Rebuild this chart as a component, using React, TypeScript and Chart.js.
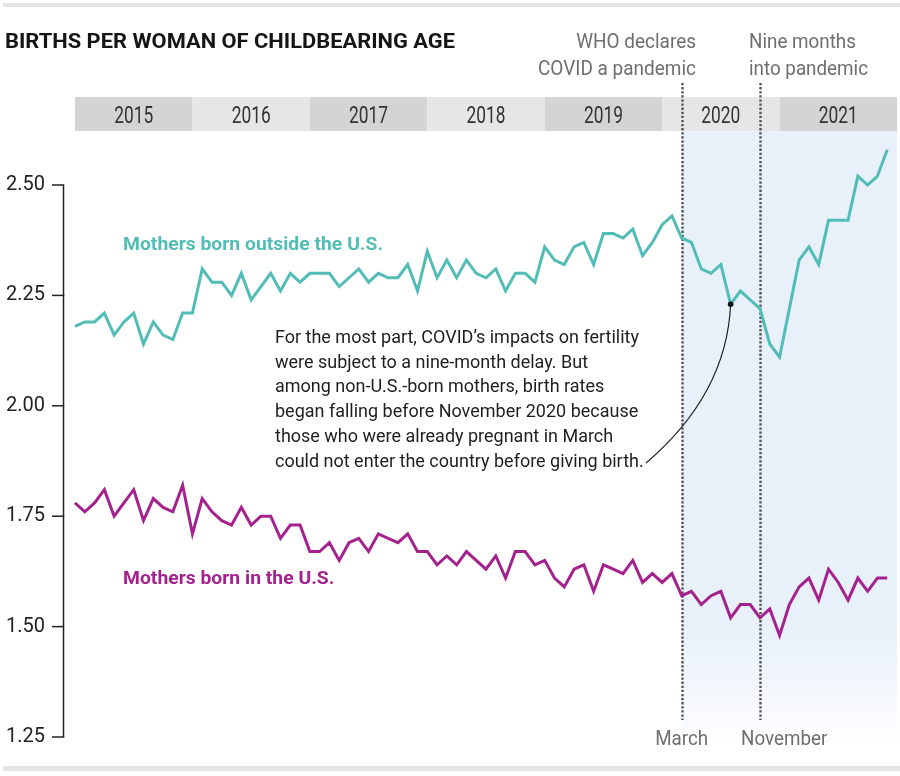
import React, { useEffect, useRef } from "react";
import { Chart, registerables } from "chart.js";

Chart.register(...registerables);

// ---------------- DATA ----------------
const YEARS = ["2015", "2016", "2017", "2018", "2019", "2020", "2021"];
const MONTHS_PER_YEAR = 12;

// Monthly births per woman, Jan 2015 – Dec 2021
const FOREIGN_BORN = [
  2.18, 2.19, 2.19, 2.21, 2.16, 2.19, 2.21, 2.14, 2.19, 2.16, 2.15, 2.21,
  2.21, 2.31, 2.28, 2.28, 2.25, 2.30, 2.24, 2.27, 2.30, 2.26, 2.30, 2.28,
  2.30, 2.30, 2.30, 2.27, 2.29, 2.31, 2.28, 2.30, 2.29, 2.29, 2.32, 2.26,
  2.35, 2.29, 2.33, 2.29, 2.33, 2.30, 2.29, 2.31, 2.26, 2.30, 2.30, 2.28,
  2.36, 2.33, 2.32, 2.36, 2.37, 2.32, 2.39, 2.39, 2.38, 2.40, 2.34, 2.37,
  2.41, 2.43, 2.38, 2.37, 2.31, 2.30, 2.32, 2.23, 2.26, 2.24, 2.22, 2.14,
  2.11, 2.22, 2.33, 2.36, 2.32, 2.42, 2.42, 2.42, 2.52, 2.50, 2.52, 2.58,
];
const US_BORN = [
  1.78, 1.76, 1.78, 1.81, 1.75, 1.78, 1.81, 1.74, 1.79, 1.77, 1.76, 1.82,
  1.71, 1.79, 1.76, 1.74, 1.73, 1.77, 1.73, 1.75, 1.75, 1.70, 1.73, 1.73,
  1.67, 1.67, 1.69, 1.65, 1.69, 1.70, 1.67, 1.71, 1.70, 1.69, 1.71, 1.67,
  1.67, 1.64, 1.66, 1.64, 1.67, 1.65, 1.63, 1.66, 1.61, 1.67, 1.67, 1.64,
  1.65, 1.61, 1.59, 1.63, 1.64, 1.58, 1.64, 1.63, 1.62, 1.65, 1.60, 1.62,
  1.60, 1.62, 1.57, 1.58, 1.55, 1.57, 1.58, 1.52, 1.55, 1.55, 1.52, 1.54,
  1.48, 1.55, 1.59, 1.61, 1.56, 1.63, 1.60, 1.56, 1.61, 1.58, 1.61, 1.61,
];
const Y_TICKS = [1.25, 1.5, 1.75, 2.0, 2.25, 2.5];
const Y_MIN = 1.2206;
const Y_MAX = 2.6223;

const EVENT_MONTHS = [62, 70]; // March 2020, November 2020
const EVENT_AXIS_LABELS = ["March", "November"];
const EVENT_TOP_LABELS = [
  ["WHO declares", "COVID a pandemic"],
  ["Nine months", "into pandemic"],
];
const SERIES_LABELS = ["Mothers born outside the U.S.", "Mothers born in the U.S."];
const TITLE = "BIRTHS PER WOMAN OF CHILDBEARING AGE";
const NOTE_LINES = [
  "For the most part, COVID\u2019s impacts on fertility",
  "were subject to a nine-month delay. But",
  "among non-U.S.-born mothers, birth rates",
  "began falling before November 2020 because",
  "those who were already pregnant in March",
  "could not enter the country before giving birth.",
];
const NOTE_INDEX = 67; // point the note refers to

// ---------------- STYLE ----------------
const FONT = "Roboto, 'Noto Sans', sans-serif";
const TEAL = "#52bdb6";
const MAGENTA = "#a3228d";

function fitScale(ctx: CanvasRenderingContext2D, text: string, font: string, target: number) {
  ctx.save();
  ctx.font = font;
  const w = ctx.measureText(text).width;
  ctx.restore();
  return w > 0 ? target / w : 1;
}

function drawText(
  ctx: CanvasRenderingContext2D,
  text: string,
  x: number,
  y: number,
  font: string,
  color: string,
  align: "left" | "right" | "center",
  sx: number
) {
  ctx.save();
  ctx.font = font;
  ctx.fillStyle = color;
  ctx.textBaseline = "alphabetic";
  ctx.textAlign = "left";
  const w = ctx.measureText(text).width * sx;
  const x0 = align === "left" ? x : align === "right" ? x - w : x - w / 2;
  ctx.translate(x0, y);
  ctx.scale(sx, 1);
  ctx.fillText(text, 0, 0);
  ctx.restore();
}

const decorPlugin = {
  id: "decor",
  beforeDatasetsDraw(chart: any) {
    const { ctx, chartArea } = chart;
    const xs = chart.scales.x;
    const ys = chart.scales.y;
    ctx.save();

    // top / bottom rules
    ctx.fillStyle = "#e4e4e4";
    ctx.fillRect(3, 3, 897, 4);
    ctx.fillRect(3, 766, 897, 5);

    // shaded pandemic region
    const sx0 = xs.getPixelForValue(EVENT_MONTHS[0]);
    const grad = ctx.createLinearGradient(0, chartArea.top, 0, chartArea.bottom);
    grad.addColorStop(0, "rgba(232,240,250,1)");
    grad.addColorStop(0.8, "rgba(232,240,250,1)");
    grad.addColorStop(1, "rgba(232,240,250,0)");
    ctx.fillStyle = grad;
    ctx.fillRect(sx0, chartArea.top, chartArea.right - sx0, chartArea.bottom - chartArea.top);

    // year bands
    const yearFont = `23px ${FONT}`;
    const ysx = fitScale(ctx, YEARS[0], yearFont, 39);
    YEARS.forEach((yr, k) => {
      const a = xs.getPixelForValue(k * MONTHS_PER_YEAR);
      const b = xs.getPixelForValue((k + 1) * MONTHS_PER_YEAR);
      ctx.fillStyle = k % 2 === 0 ? "#d4d4d4" : "#e6e6e6";
      ctx.fillRect(a, 97, b - a, 34);
      drawText(ctx, yr, (a + b) / 2, 123, yearFont, "#333", "center", ysx);
    });

    // dotted event lines
    ctx.strokeStyle = "#555";
    ctx.lineWidth = 2.4;
    ctx.setLineDash([2.3, 1.8]);
    EVENT_MONTHS.forEach((m) => {
      const x = Math.round(xs.getPixelForValue(m)) + 0.5;
      ctx.beginPath();
      ctx.moveTo(x, 83);
      ctx.lineTo(x, 720);
      ctx.stroke();
    });
    ctx.setLineDash([]);

    // y axis line and ticks
    const axX = 63.5;
    ctx.strokeStyle = "#222";
    ctx.lineWidth = 1.5;
    ctx.beginPath();
    ctx.moveTo(axX, ys.getPixelForValue(Y_TICKS[Y_TICKS.length - 1]));
    ctx.lineTo(axX, ys.getPixelForValue(Y_TICKS[0]));
    ctx.stroke();
    Y_TICKS.forEach((v) => {
      const y = ys.getPixelForValue(v);
      ctx.beginPath();
      ctx.moveTo(52, y);
      ctx.lineTo(axX + 0.75, y);
      ctx.stroke();
    });
    ctx.restore();
  },
  afterDatasetsDraw(chart: any) {
    const { ctx } = chart;
    const xs = chart.scales.x;
    ctx.save();

    // title
    const titleFont = `bold 21px ${FONT}`;
    drawText(ctx, TITLE, 5, 48, titleFont, "#151515", "left", fitScale(ctx, TITLE, titleFont, 450));

    // event labels (top)
    const evFont = `20px ${FONT}`;
    const s1 = fitScale(ctx, EVENT_TOP_LABELS[0][1], evFont, 158);
    drawText(ctx, EVENT_TOP_LABELS[0][0], 696, 48, evFont, "#6e6e6e", "right", s1);
    drawText(ctx, EVENT_TOP_LABELS[0][1], 696, 75, evFont, "#6e6e6e", "right", s1);
    const s2 = fitScale(ctx, EVENT_TOP_LABELS[1][1], evFont, 119);
    drawText(ctx, EVENT_TOP_LABELS[1][0], 749, 48, evFont, "#6e6e6e", "left", s2);
    drawText(ctx, EVENT_TOP_LABELS[1][1], 749, 75, evFont, "#6e6e6e", "left", s2);

    // event labels (bottom)
    const s3 = fitScale(ctx, EVENT_AXIS_LABELS[0], evFont, 53);
    drawText(ctx, EVENT_AXIS_LABELS[0], xs.getPixelForValue(EVENT_MONTHS[0]), 745, evFont, "#6e6e6e", "center", s3);
    drawText(ctx, EVENT_AXIS_LABELS[1], 741, 745, evFont, "#6e6e6e", "left", s3);

    // series labels
    const serFont = `bold 19px ${FONT}`;
    const s4 = fitScale(ctx, SERIES_LABELS[0], serFont, 260);
    drawText(ctx, SERIES_LABELS[0], 123, 250, serFont, TEAL, "left", s4);
    drawText(ctx, SERIES_LABELS[1], 123, 584, serFont, MAGENTA, "left", s4);

    // note
    const noteFont = `18.5px ${FONT}`;
    const s5 = fitScale(ctx, NOTE_LINES[0], noteFont, 364);
    NOTE_LINES.forEach((ln, k) => {
      drawText(ctx, ln, 275, 343 + k * 24.7, noteFont, "#1e1e1e", "left", s5);
    });

    // connector
    const pt = chart.getDatasetMeta(0).data[NOTE_INDEX];
    const endX = 646;
    const endY = 463;
    ctx.strokeStyle = "#222";
    ctx.lineWidth = 1.2;
    ctx.beginPath();
    ctx.moveTo(pt.x, pt.y);
    ctx.quadraticCurveTo(pt.x - 4, pt.y + 90, endX, endY);
    ctx.stroke();
    ctx.fillStyle = "#111";
    ctx.beginPath();
    ctx.arc(pt.x, pt.y, 2.8, 0, Math.PI * 2);
    ctx.fill();

    ctx.restore();
  },
};

export default function App() {
  const ref = useRef<HTMLCanvasElement>(null);
  useEffect(() => {
    const canvas = ref.current!;
    const toPts = (arr: number[]) => arr.map((v, i) => ({ x: i, y: v }));
    const chart = new Chart(canvas, {
      type: "line",
      data: {
        datasets: [
          {
            label: SERIES_LABELS[0],
            data: toPts(FOREIGN_BORN),
            borderColor: TEAL,
            borderWidth: 3,
            pointRadius: 0,
            tension: 0,
            fill: false,
          },
          {
            label: SERIES_LABELS[1],
            data: toPts(US_BORN),
            borderColor: MAGENTA,
            borderWidth: 3,
            pointRadius: 0,
            tension: 0,
            fill: false,
          },
        ],
      },
      options: {
        animation: false,
        responsive: false,
        devicePixelRatio: 1,
        clip: false as any,
        layout: { padding: { left: 0, right: 3, top: 131, bottom: 26 } },
        plugins: {
          legend: { display: false },
          tooltip: { enabled: false },
          title: { display: false },
        },
        scales: {
          x: {
            type: "linear",
            min: 0,
            max: YEARS.length * MONTHS_PER_YEAR,
            display: false,
          },
          y: {
            type: "linear",
            min: Y_MIN,
            max: Y_MAX,
            afterBuildTicks: (s: any) => {
              s.ticks = Y_TICKS.map((v) => ({ value: v }));
            },
            afterFit: (s: any) => {
              s.width = 75;
            },
            ticks: {
              autoSkip: false,
              padding: 0,
              color: "#222",
              font: { family: FONT, size: 20 },
              callback: (v: any) => Number(v).toFixed(2),
            },
            grid: {
              display: true,
              drawOnChartArea: false,
              drawTicks: true,
              tickLength: 30,
              color: "rgba(0,0,0,0)",
            },
            border: { display: false },
          },
        },
      },
      plugins: [decorPlugin],
    });
    return () => chart.destroy();
  }, []);
  return (
    <div style={{ position: "absolute", left: 0, top: 0, width: 900, height: 776, background: "#fff" }}>
      <canvas ref={ref} width={900} height={776} style={{ width: 900, height: 776, display: "block" }} />
    </div>
  );
}
